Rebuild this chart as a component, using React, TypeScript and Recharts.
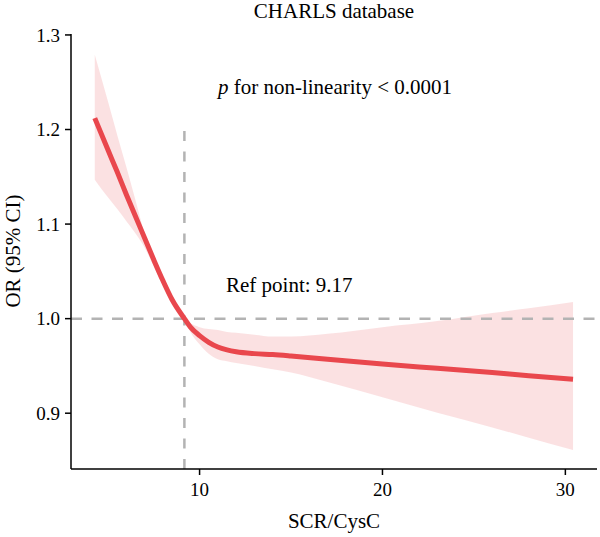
import React from "react";
import {
  ComposedChart,
  Area,
  Line,
  XAxis,
  YAxis,
  ReferenceLine,
} from "recharts";

const xs = [4.27, 5, 5.5, 6, 6.5, 7, 7.5, 8, 8.5, 9.17, 9.5, 10, 10.5, 11, 11.5, 12, 13, 14, 15, 17, 20, 23, 26, 28, 30.42];
const orValues = [1.212, 1.178, 1.155, 1.131, 1.108, 1.085, 1.062, 1.04, 1.02, 1.0, 0.991, 0.982, 0.975, 0.97, 0.967, 0.965, 0.963, 0.962, 0.9605, 0.957, 0.952, 0.9475, 0.943, 0.9395, 0.936];
const upperCI = [1.279, 1.229, 1.194, 1.16, 1.125, 1.09, 1.066, 1.043, 1.022, 1.0, 0.995, 0.991, 0.989, 0.988, 0.986, 0.985, 0.983, 0.981, 0.981, 0.984, 0.991, 0.9975, 1.006, 1.011, 1.0176];
const lowerCI = [1.147, 1.128, 1.116, 1.103, 1.09, 1.075, 1.055, 1.035, 1.017, 1.0, 0.986, 0.973, 0.963, 0.957, 0.955, 0.953, 0.95, 0.9465, 0.943, 0.933, 0.917, 0.9006, 0.885, 0.874, 0.861];
const xTicks = [10, 20, 30];
const yTicks = [0.9, 1.0, 1.1, 1.2, 1.3];
const refPoint = 9.17;

const FONT = "'Liberation Serif', serif";
const RED = "#e9474d";
const GREY = "#b3b3b3";

const data = xs.map((x, i) => ({
  x,
  or: orValues[i],
  ci: [lowerCI[i], upperCI[i]],
}));

export default function App() {
  return (
    <div style={{ position: "absolute", left: 0, top: 0 }}>
      <ComposedChart
        width={600}
        height={537}
        data={data}
        margin={{ top: 34, right: 3, left: 0, bottom: 0 }}
      >
        <XAxis
          dataKey="x"
          type="number"
          domain={[2.97, 31.73]}
          ticks={xTicks}
          height={68}
          tickSize={6}
          tickMargin={8}
          tick={{ fill: "#000", fontSize: 19, fontFamily: FONT }}
          axisLine={{ stroke: "#000", strokeWidth: 1.5 }}
          tickLine={{ stroke: "#000", strokeWidth: 1.5 }}
        />
        <YAxis
          type="number"
          domain={[0.841, 1.301]}
          ticks={yTicks}
          width={71}
          tickSize={6}
          tickMargin={5}
          tickFormatter={(v: number) => v.toFixed(1)}
          tick={{ fill: "#000", fontSize: 19, fontFamily: FONT }}
          axisLine={{ stroke: "#000", strokeWidth: 1.5 }}
          tickLine={{ stroke: "#000", strokeWidth: 1.5 }}
        />
        <Area
          dataKey="ci"
          type="monotone"
          stroke="none"
          fill={RED}
          fillOpacity={0.16}
          isAnimationActive={false}
        />
        <ReferenceLine
          y={1}
          stroke={GREY}
          strokeWidth={2.5}
          strokeDasharray="11 9.5"
        />
        <ReferenceLine
          segment={[
            { x: refPoint, y: 0.841 },
            { x: refPoint, y: 1.2 },
          ]}
          stroke={GREY}
          strokeWidth={2.5}
          strokeDasharray="10 10.5"
        />
        <Line
          dataKey="or"
          type="monotone"
          stroke={RED}
          strokeWidth={5}
          dot={false}
          activeDot={false}
          isAnimationActive={false}
        />
        {/* titles and annotations */}
        <text x={334} y={18} textAnchor="middle" fontSize={21} fontFamily={FONT} fill="#000">
          CHARLS database
        </text>
        <text x={335} y={94} textAnchor="middle" fontSize={21} fontFamily={FONT} fill="#000">
          <tspan fontStyle="italic">p</tspan> for non-linearity &lt; 0.0001
        </text>
        <text x={226} y={292} fontSize={21} fontFamily={FONT} fill="#000">
          Ref point: 9.17
        </text>
        <text x={334} y={528} textAnchor="middle" fontSize={21} fontFamily={FONT} fill="#000">
          SCR/CysC
        </text>
        <text
          transform="translate(20, 251) rotate(-90)"
          textAnchor="middle"
          fontSize={21}
          fontFamily={FONT}
          fill="#000"
        >
          OR (95% CI)
        </text>
      </ComposedChart>
    </div>
  );
}
